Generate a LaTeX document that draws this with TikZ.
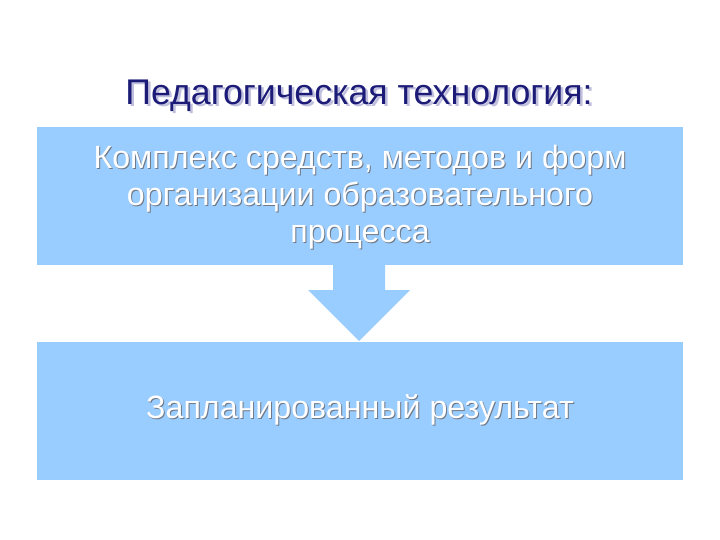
\documentclass[tikz,border=0pt]{standalone}
\usepackage{fontspec}
\setmainfont{Liberation Sans}
\definecolor{boxblue}{RGB}{153,204,255}
\definecolor{titleblue}{RGB}{28,28,120}
\definecolor{shadowblue}{RGB}{150,150,200}
\definecolor{textshadow}{RGB}{110,120,135}
\tikzset{
  panel/.style={fill=boxblue, draw=none},
  bodytext/.style={text=white, font=\fontsize{32.2}{37}\selectfont, align=center},
  bodyshadow/.style={text=textshadow, font=\fontsize{32.2}{37}\selectfont, align=center},
}
\begin{document}
\begin{tikzpicture}[x=1pt,y=-1pt]
\useasboundingbox (0,0) rectangle (720,540);
\fill[white] (0,0) rectangle (720,540);
% title shadow + title
\node[text=shadowblue, font=\fontsize{35.7}{38}\selectfont, opacity=0.6] at (361.5,98) {Педагогическая технология:};
\node (title) [text=titleblue, font=\fontsize{35.7}{38}\selectfont] at (359,96) {Педагогическая технология:};
% boxes
\fill[panel] (37,127) rectangle (683,265);
\node [bodyshadow] at (361,198) {Комплекс средств, методов и форм\\организации образовательного\\процесса};
\node (top) [bodytext] at (360,197) {Комплекс средств, методов и форм\\организации образовательного\\процесса};
\fill[panel] (37,342) rectangle (683,480);
\node [bodyshadow] at (361,411) {Запланированный результат};
\node (bottom) [bodytext] at (360,410) {Запланированный результат};
% arrow
\fill[panel] (333,264) -- (385,264) -- (385,290) -- (410,290) -- (359,341) -- (308,290) -- (333,290) -- cycle;
\end{tikzpicture}
\end{document}
